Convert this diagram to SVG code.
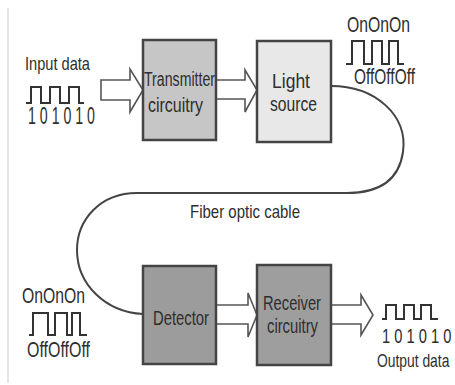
<svg xmlns="http://www.w3.org/2000/svg" width="455" height="385" viewBox="0 0 455 385">
<style>
.t{font-family:"Liberation Sans",Arial,sans-serif;fill:#2e2e2e;}
.box{stroke:#444;stroke-width:2.5;}
.arr{fill:#fff;stroke:#555;stroke-width:1.6;stroke-linejoin:miter;}
.wave{fill:none;stroke:#333;stroke-width:2;}
.cable{fill:none;stroke:#444;stroke-width:2;}
</style>
<rect width="455" height="385" fill="#fff"/>
<line x1="8" y1="8" x2="8" y2="383" stroke="#ddd" stroke-width="1.5"/>
<g id="connectors">
<polygon class="arr" points="101,80 130,80 130,69 143,90 130,112 130,100 101,100"/>
<polygon class="arr" points="216,80 245,80 245,70 257,90 245,112 245,99 216,99"/>
<polygon class="arr" points="216,305 248,305 248,293 257,315 248,337 248,324 216,324"/>
<polygon class="arr" points="331,305 361,305 361,295 373,315 361,335 361,324 331,324"/>
<path id="cable" class="cable" d="M331,86 C375,86 408,115 403,152 C399,180 380,193 347,193 L137,193 C100,193 77,220 77,250 C77,284 105,312 143,314"/>
</g>
<g id="input">
<text class="t" x="25" y="70" font-size="19" textLength="65" lengthAdjust="spacingAndGlyphs">Input data</text>
<polyline class="wave" points="26,103 31,103 31,87 41,87 41,103 50,103 50,87 60,87 60,103 69,103 69,87 79,87 79,103 84,103"/>
<text class="t" x="28" y="124" font-size="23" textLength="67" lengthAdjust="spacingAndGlyphs">1 0 1 0 1 0</text>
</g>
<g id="transmitter">
<rect class="box" x="143" y="40" width="73" height="100" fill="#c6c6c6"/>
<text class="t" x="144" y="86" font-size="20" textLength="71" lengthAdjust="spacingAndGlyphs">Transmitter</text>
<text class="t" x="148" y="112" font-size="20" textLength="55" lengthAdjust="spacingAndGlyphs">circuitry</text>
</g>
<g id="lightsource">
<rect class="box" x="257" y="41" width="74" height="101" fill="#e8e8e8"/>
<text class="t" x="272" y="88" font-size="21" textLength="38" lengthAdjust="spacingAndGlyphs">Light</text>
<text class="t" x="270" y="111" font-size="21" textLength="47" lengthAdjust="spacingAndGlyphs">source</text>
</g>
<g id="signal-top">
<text class="t" x="347" y="32" font-size="22" textLength="63" lengthAdjust="spacingAndGlyphs">OnOnOn</text>
<polyline class="wave" points="346,64 352,64 352,41 364,41 364,64 372,64 372,41 382,41 382,64 389,64 389,41 398,41 398,64 404,64"/>
<text class="t" x="354" y="84" font-size="22" textLength="61" lengthAdjust="spacingAndGlyphs">OffOffOff</text>
</g>
<g id="cable-label">
<text class="t" x="190" y="218" font-size="19" textLength="110" lengthAdjust="spacingAndGlyphs">Fiber optic cable</text>
</g>
<g id="signal-bottom">
<text class="t" x="22" y="303" font-size="22" textLength="63" lengthAdjust="spacingAndGlyphs">OnOnOn</text>
<polyline class="wave" points="29,335 33,335 33,313 48,313 48,335 55,335 55,313 67,313 67,335 72,335 72,313 80,313 80,335 87,335"/>
<text class="t" x="27" y="357" font-size="22" textLength="63" lengthAdjust="spacingAndGlyphs">OffOffOff</text>
</g>
<g id="detector">
<rect class="box" x="143" y="266" width="73" height="98" fill="#9c9c9c"/>
<text class="t" x="153" y="325" font-size="21" textLength="56" lengthAdjust="spacingAndGlyphs">Detector</text>
</g>
<g id="receiver">
<rect class="box" x="257" y="265" width="74" height="100" fill="#9e9e9e"/>
<text class="t" x="263" y="310" font-size="21" textLength="58" lengthAdjust="spacingAndGlyphs">Receiver</text>
<text class="t" x="267" y="333" font-size="21" textLength="51" lengthAdjust="spacingAndGlyphs">circuitry</text>
</g>
<g id="output">
<polyline class="wave" points="382,319 386,319 386,305 396,305 396,319 404,319 404,305 414,305 414,319 421,319 421,305 431,305 431,319 438,319"/>
<text class="t" transform="translate(382,343) scale(0.7,1)" font-size="21">1 0 1 0 1 0</text>
<text class="t" transform="translate(377,367) scale(0.77,1)" font-size="18">Output data</text>
</g>
</svg>
